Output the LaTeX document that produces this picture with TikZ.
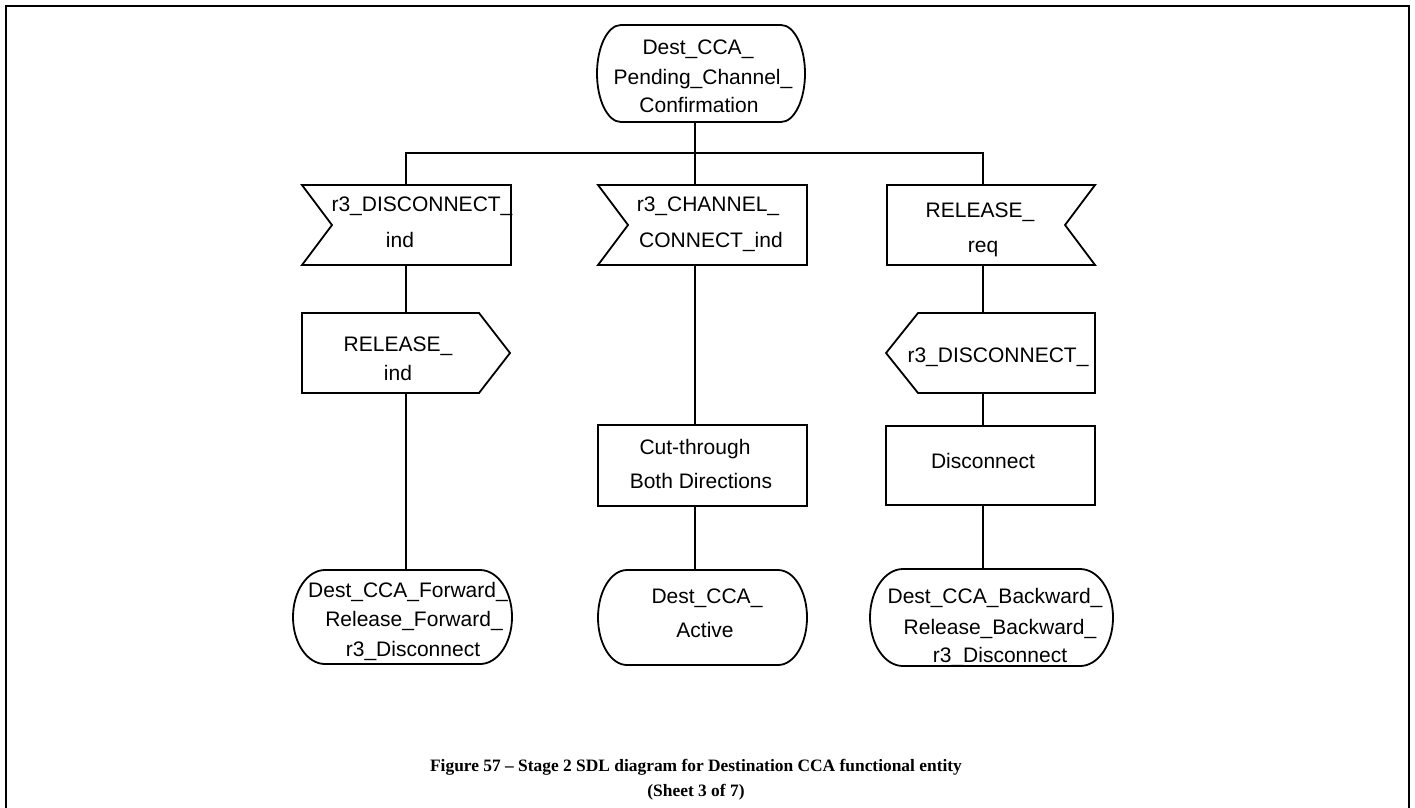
\documentclass[tikz,border=0pt]{standalone}
\usepackage{fontspec}
\setmainfont{Liberation Sans}
\newfontfamily\capfont{Liberation Serif}
\tikzset{
  shp/.style={draw=black, line width=1.8pt, line join=miter},
  wire/.style={draw=black, line width=1.8pt},
  frame/.style={draw=black, line width=2.2pt, line join=miter},
  holder/.style={rectangle, inner sep=0pt, outer sep=0pt},
  taskbox/.style={holder, shp},
  txt/.style={font=\fontsize{21}{25}\selectfont, inner sep=0pt, anchor=base},
  captxt/.style={font=\capfont\bfseries\fontsize{17.4}{22}\selectfont, inner sep=0pt, anchor=base}
}
\newcommand\drawstate[3]{%
  \draw[shp] ([xshift=#2]#1.north west) -- ([xshift=-#2]#1.north east)
    arc[start angle=90,end angle=-90,x radius=#2,y radius=#3]
    -- ([xshift=#2]#1.south west)
    arc[start angle=270,end angle=90,x radius=#2,y radius=#3] -- cycle;}
\newcommand\drawinleft[2]{%
  \draw[shp] (#1.north west) -- (#1.north east) -- (#1.south east) -- (#1.south west) -- ([xshift=#2]#1.west) -- cycle;}
\newcommand\drawinright[2]{%
  \draw[shp] (#1.north west) -- (#1.north east) -- ([xshift=-#2]#1.east) -- (#1.south east) -- (#1.south west) -- cycle;}
\newcommand\drawoutright[2]{%
  \draw[shp] (#1.north west) -- ([xshift=-#2]#1.north east) -- (#1.east) -- ([xshift=-#2]#1.south east) -- (#1.south west) -- cycle;}
\newcommand\drawoutleft[2]{%
  \draw[shp] ([xshift=#2]#1.north west) -- (#1.north east) -- (#1.south east) -- ([xshift=#2]#1.south west) -- (#1.west) -- cycle;}
\begin{document}
\begin{tikzpicture}[x=1pt,y=1pt]
\path[use as bounding box] (0,0) rectangle (1415,-807);
% frame
\draw[frame] (6,-830) -- (6,-6) -- (1409,-6) -- (1409,-830);

% shape holders
\node[holder, minimum width=208pt, minimum height=97pt] (s0) at (701,-73.5) {};
\node[holder, minimum width=209pt, minimum height=80pt] (i1) at (406.5,-225) {};
\node[holder, minimum width=209pt, minimum height=80pt] (i2) at (702.5,-225) {};
\node[holder, minimum width=208pt, minimum height=80pt] (i3) at (991,-225) {};
\node[holder, minimum width=208pt, minimum height=80pt] (o1) at (406,-353) {};
\node[holder, minimum width=209pt, minimum height=80pt] (o3) at (990.5,-353) {};
\node[taskbox, minimum width=209pt, minimum height=81pt] (t2) at (702.5,-465.5) {};
\node[taskbox, minimum width=209pt, minimum height=79pt] (t3) at (990.5,-465.5) {};
\node[holder, minimum width=219pt, minimum height=94pt] (s1) at (402.5,-617) {};
\node[holder, minimum width=209pt, minimum height=95pt] (s2) at (702.5,-617.5) {};
\node[holder, minimum width=243pt, minimum height=97pt] (s3) at (991.5,-617.5) {};

% outlines
\drawstate{s0}{24}{48.5}
\drawinleft{i1}{30}
\drawinleft{i2}{30}
\drawinright{i3}{30}
\drawoutright{o1}{31}
\drawoutleft{o3}{32}
\drawstate{s1}{32}{47}
\drawstate{s2}{29}{47.5}
\drawstate{s3}{33}{48.5}

% connectors
\coordinate (jL) at (406,-153);
\coordinate (jC) at (695,-153);
\coordinate (jR) at (983,-153);
\draw[wire] (jC |- s0.south) -- (jC);
\draw[wire] (jL |- i1.north) -- (jL) -- (jR) -- (jR |- i3.north);
\draw[wire] (jC) -- (jC |- i2.north);
\draw[wire] (jL |- i1.south) -- (jL |- o1.north);
\draw[wire] (jL |- o1.south) -- (jL |- s1.north);
\draw[wire] (jC |- i2.south) -- (jC |- t2.north);
\draw[wire] (jC |- t2.south) -- (jC |- s2.north);
\draw[wire] (jR |- i3.south) -- (jR |- o3.north);
\draw[wire] (jR |- o3.south) -- (jR |- t3.north);
\draw[wire] (jR |- t3.south) -- (jR |- s3.north);

% texts
\node[txt] (s0a) at (698,-54.5) {Dest\_CCA\_};
\node[txt] (s0b) at (703,-84) {Pending\_Channel\_};
\node[txt] (s0c) at (699,-112) {Confirmation};

\node[txt] (i1a) at (422,-211) {r3\_DISCONNECT\_};
\node[txt] (i1b) at (400,-247) {ind};
\node[txt] (i2a) at (708,-211) {r3\_CHANNEL\_};
\node[txt] (i2b) at (711,-247) {CONNECT\_ind};
\node[txt] (i3a) at (980,-217) {RELEASE\_};
\node[txt] (i3b) at (983,-252) {req};

\node[txt] (o1a) at (398,-351) {RELEASE\_};
\node[txt] (o1b) at (398,-380) {ind};
\node[txt] (o3a) at (998,-362) {r3\_DISCONNECT\_};

\node[txt] (t2a) at (695,-454) {Cut-through};
\node[txt] (t2b) at (701,-488) {Both Directions};
\node[txt] (t3a) at (983,-468) {Disconnect};

\node[txt] (s1a) at (408,-597) {Dest\_CCA\_Forward\_};
\node[txt] (s1b) at (414,-626) {Release\_Forward\_};
\node[txt] (s1c) at (413,-656) {r3\_Disconnect};
\node[txt] (s2a) at (707,-603) {Dest\_CCA\_};
\node[txt] (s2b) at (705,-637) {Active};
\node[txt] (s3a) at (995,-603) {Dest\_CCA\_Backward\_};
\node[txt] (s3b) at (1000,-634) {Release\_Backward\_};
\node[txt] (s3c) at (1000,-662) {r3\_Disconnect};

% caption
\node[captxt] (cap1) at (696,-771) {Figure 57 – Stage 2 SDL diagram for Destination CCA functional entity};
\node[captxt] (cap2) at (696,-796) {(Sheet 3 of 7)};
\end{tikzpicture}
\end{document}
